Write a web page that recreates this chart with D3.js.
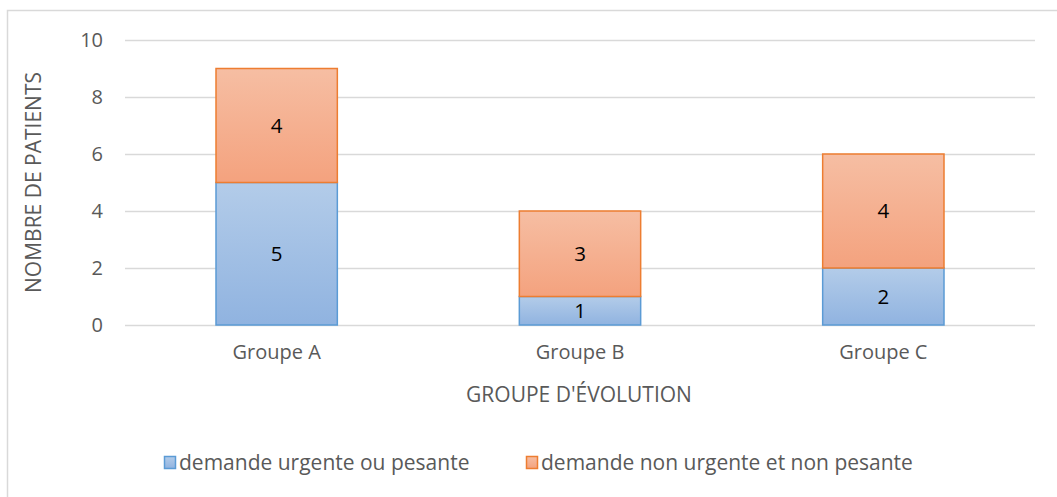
<!DOCTYPE html>
<html>
<head>
<meta charset="utf-8">
<script src="https://cdn.jsdelivr.net/npm/d3@7"></script>
<style>
  html, body { margin: 0; padding: 0; background: #fff; }
  svg { display: block; font-family: "Open Sans", "Liberation Sans", sans-serif; }
</style>
</head>
<body>
<svg id="chart" width="1057" height="497"></svg>
<script>
// Patients per evolution group, split by type of request
const categories = ["Groupe A", "Groupe B", "Groupe C"];
const seriesNames = ["demande urgente ou pesante", "demande non urgente et non pesante"];
const urgent = [5, 1, 2];
const nonUrgent = [4, 3, 4];
const yTicks = [0, 2, 4, 6, 8, 10];
const yTitle = "NOMBRE DE PATIENTS";
const xTitle = "GROUPE D'ÉVOLUTION";

const W = 1057, H = 497;
const margin = { left: 125, right: 22, top: 40, bottom: 172 };
const svg = d3.select("#chart");
const textColor = "#595959";
const font = "'Open Sans', sans-serif";

// Gradients for the two series
const defs = svg.append("defs");
function grad(id, top, bottom) {
  const g = defs.append("linearGradient").attr("id", id)
    .attr("x1", 0).attr("y1", 0).attr("x2", 0).attr("y2", 1);
  g.append("stop").attr("offset", "0%").attr("stop-color", top);
  g.append("stop").attr("offset", "100%").attr("stop-color", bottom);
}
grad("gBlue", "#b3cce9", "#90b3e0");
grad("gOrange", "#f6bea3", "#f4a27e");

const fills = ["url(#gBlue)", "url(#gOrange)"];
const strokes = ["#5b9bd5", "#ed7d31"];

// Outer chart frame
svg.append("rect")
  .attr("x", 7.5).attr("y", 10.5)
  .attr("width", 1060).attr("height", 500)
  .attr("fill", "none").attr("stroke", "#d9d9d9").attr("stroke-width", 1.5);

const x = d3.scaleBand()
  .domain(categories)
  .range([margin.left, W - margin.right])
  .paddingInner(0.6)
  .paddingOuter(0.3);

const y = d3.scaleLinear()
  .domain([0, 10])
  .range([H - margin.bottom, margin.top]);

// Horizontal gridlines
svg.append("g")
  .selectAll("line")
  .data(yTicks)
  .join("line")
  .attr("x1", margin.left).attr("x2", W - margin.right)
  .attr("y1", d => Math.round(y(d)) + 0.5).attr("y2", d => Math.round(y(d)) + 0.5)
  .attr("stroke", "#d9d9d9").attr("stroke-width", 1.3);

// Y axis labels
const yAxis = svg.append("g")
  .attr("transform", `translate(${margin.left - 22},0)`)
  .call(d3.axisLeft(y).tickValues(yTicks).tickSize(0).tickPadding(0));
yAxis.select(".domain").remove();
yAxis.selectAll("text")
  .attr("fill", textColor).attr("font-size", 20).attr("font-family", font);

// X axis labels
const xAxis = svg.append("g")
  .attr("transform", `translate(0,${y(0)})`)
  .call(d3.axisBottom(x).tickSize(0).tickPadding(20));
xAxis.select(".domain").remove();
xAxis.selectAll("text")
  .attr("fill", textColor).attr("font-size", 20).attr("font-family", font);

// Stacked bars
const rows = categories.map((c, i) => ({ cat: c, s0: urgent[i], s1: nonUrgent[i] }));
const stack = d3.stack().keys(["s0", "s1"])(rows);

stack.forEach((layer, li) => {
  const g = svg.append("g");
  g.selectAll("rect")
    .data(layer)
    .join("rect")
    .attr("x", d => x(d.data.cat))
    .attr("y", d => y(d[1]))
    .attr("width", x.bandwidth())
    .attr("height", d => y(d[0]) - y(d[1]))
    .attr("fill", fills[li])
    .attr("stroke", strokes[li])
    .attr("stroke-width", 1.5);
  g.selectAll("text")
    .data(layer)
    .join("text")
    .attr("x", d => x(d.data.cat) + x.bandwidth() / 2)
    .attr("y", d => (y(d[0]) + y(d[1])) / 2)
    .attr("dy", "0.36em")
    .attr("text-anchor", "middle")
    .attr("font-size", 20.5)
    .attr("fill", "#000")
    .text(d => d[1] - d[0]);
});

// Axis titles
svg.append("text")
  .attr("transform", `translate(33,${(y(0) + y(10)) / 2}) rotate(-90)`)
  .attr("dy", "0.36em")
  .attr("text-anchor", "middle")
  .attr("font-size", 21)
  .attr("fill", textColor)
  .text(yTitle);

svg.append("text")
  .attr("x", 579)
  .attr("y", 394)
  .attr("dy", "0.36em")
  .attr("text-anchor", "middle")
  .attr("font-size", 21)
  .attr("fill", textColor)
  .text(xTitle);

// Legend
const legendX = [164, 526];
const legend = svg.append("g");
seriesNames.forEach((name, i) => {
  legend.append("rect")
    .attr("x", legendX[i] + 0.5).attr("y", 456.5)
    .attr("width", 11).attr("height", 12)
    .attr("fill", fills[i]).attr("stroke", strokes[i]).attr("stroke-width", 1.5);
  legend.append("text")
    .attr("x", legendX[i] + 15).attr("y", 462.5)
    .attr("dy", "0.36em")
    .attr("font-size", 21)
    .attr("fill", textColor)
    .text(name);
});
</script>
</body>
</html>
